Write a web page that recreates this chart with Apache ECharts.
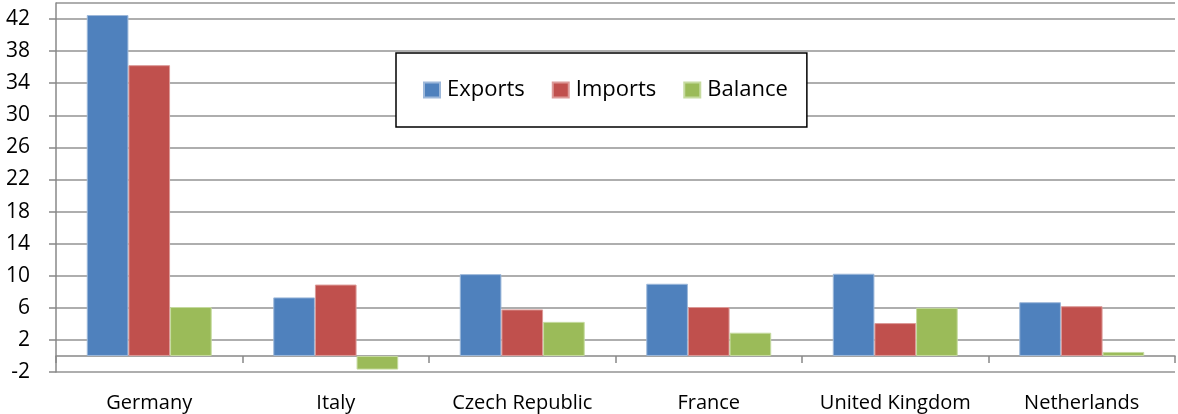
<!DOCTYPE html>
<html>
<head>
<meta charset="utf-8">
<script src="https://cdn.jsdelivr.net/npm/echarts@6/dist/echarts.min.js"></script>
<style>
  html, body { margin: 0; padding: 0; background: #fff; }
  #chart { width: 1178px; height: 414px; }
</style>
</head>
<body>
<div id="chart"></div>
<script>
// data
var countries = ['Germany', 'Italy', 'Czech Republic', 'France', 'United Kingdom', 'Netherlands'];
var exportsData = [42.5, 7.3, 10.2, 9.0, 10.25, 6.7];
var importsData = [36.25, 8.9, 5.8, 6.1, 4.1, 6.2];
var balanceData = [6.1, -1.7, 4.25, 2.9, 6.0, 0.5];

var gridGray = '#939393';
var axisFont = 'Open Sans';

var chart = echarts.init(document.getElementById('chart'));

// split line colours, last one (max 44) hidden
var splitColors = [];
for (var i = 0; i < 13; i++) splitColors.push(gridGray);
splitColors.push('rgba(0,0,0,0)');

var option = {
    animation: false,
    grid: { left: 56, right: 3, top: 3, bottom: 42, outerBoundsMode: 'none', containLabel: false },
    legend: {
        left: 396,
        top: 53,
        padding: [26, 19, 26, 27],
        itemWidth: 16,
        itemHeight: 15,
        itemGap: 27,
        icon: 'rect',
        borderColor: '#000',
        borderWidth: 1.5,
        backgroundColor: '#fff',
        textStyle: { fontFamily: axisFont, fontSize: 22, color: '#000', padding: [0, 0, 0, 2] },
        data: ['Exports', 'Imports', 'Balance']
    },
    xAxis: {
        type: 'category',
        data: countries,
        axisLine: { onZero: true, lineStyle: { color: '#888', width: 1.5 } },
        axisTick: { show: true, length: 7, lineStyle: { color: '#888', width: 1.5 } },
        axisLabel: { margin: 21, fontFamily: axisFont, fontSize: 20, color: '#000', interval: 0 }
    },
    yAxis: {
        type: 'value',
        min: -2,
        max: 44,
        interval: 4,
        axisLine: { show: true, lineStyle: { color: '#888', width: 1.5 } },
        axisTick: { show: true, length: 7, lineStyle: { color: '#888', width: 1.5 } },
        axisLabel: { margin: 26, fontFamily: axisFont, fontSize: 21, color: '#000', showMaxLabel: false },
        splitLine: { show: true, lineStyle: { color: splitColors, width: 1.5 } }
    },
    series: [{
        name: 'Exports',
        type: 'bar',
        barGap: '0%',
        barCategoryGap: '33%',
        itemStyle: { color: '#4F81BD', borderColor: '#9db8da', borderWidth: 1 },
        data: exportsData
    }, {
        name: 'Imports',
        type: 'bar',
        itemStyle: { color: '#C0504D', borderColor: '#dc9a98', borderWidth: 1 },
        data: importsData
    }, {
        name: 'Balance',
        type: 'bar',
        itemStyle: { color: '#9BBB59', borderColor: '#c6dba0', borderWidth: 1 },
        data: balanceData
    }]
};

chart.setOption(option);
</script>
</body>
</html>
